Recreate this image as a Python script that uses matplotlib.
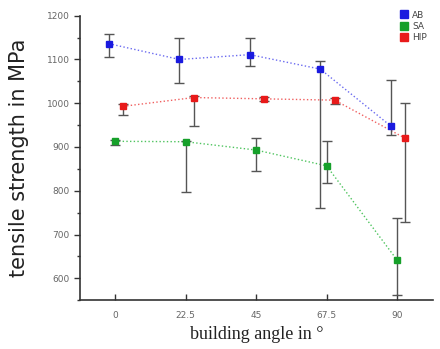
import matplotlib.pyplot as plt
from matplotlib.ticker import MultipleLocator
import numpy as np

# ── DATA ─────────────────────────────────────────────────────
angles = [0, 22.5, 45, 67.5, 90]
tick_labels = ['0', '22.5', '45', '67.5', '90']

ab_val = [1136, 1100, 1111, 1078, 948]
ab_lo  = [1106, 1047, 1085, 760, 927]
ab_hi  = [1158, 1149, 1150, 1096, 1054]

sa_val = [913, 912, 893, 857, 642]
sa_lo  = [904, 797, 846, 817, 561]
sa_hi  = [916, 914, 921, 914, 737]

hip_val = [993, 1013, 1010, 1007, 920]
hip_lo  = [973, 949, 1004, 998, 729]
hip_hi  = [998, 1017, 1014, 1011, 1001]

# ── STYLE ────────────────────────────────────────────────────
series = [
    ('AB', ab_val, ab_lo, ab_hi, -2.0, '#1a1adf', '#6b6bf0'),
    ('SA', sa_val, sa_lo, sa_hi, 0.0, '#16a02a', '#4fc45f'),
    ('HIP', hip_val, hip_lo, hip_hi, 2.6, '#e81a1a', '#f06060'),
]

fig = plt.figure(figsize=(4.4, 3.49), dpi=100)
ax = fig.add_axes([0.182, 0.140, 0.802, 0.815])

x = np.array(angles)
for name, val, lo, hi, off, c, lc in series:
    val = np.array(val)
    yerr = [val - np.array(lo), np.array(hi) - val]
    ax.plot(x + off, val, ls=':', color=lc, lw=1.0, zorder=2)
    ax.errorbar(x + off, val, yerr=yerr, fmt='none', ecolor='#555555',
                elinewidth=1.0, capsize=3.5, capthick=1.0, zorder=3)
    ax.plot(x + off, val, 's', color=c, ms=5, ls='none', zorder=4, label=name)

ax.set_xlim(-11.25, 101.5)
ax.set_ylim(550, 1200)
ax.set_xticks(angles)
ax.set_xticklabels(tick_labels)
ax.yaxis.set_major_locator(MultipleLocator(100))
ax.yaxis.set_minor_locator(MultipleLocator(50))

for s in ['top', 'right']:
    ax.spines[s].set_visible(False)
for s in ['left', 'bottom']:
    ax.spines[s].set_color('#333333')
    ax.spines[s].set_linewidth(1.2)

ax.tick_params(axis='y', which='major', direction='out', length=4, width=1,
               labelsize=6.5, labelcolor='#666666', color='#333333')
ax.tick_params(axis='y', which='minor', direction='out', length=2.5, width=1,
               color='#333333')
ax.tick_params(axis='x', direction='in', length=4, width=1, pad=8,
               labelsize=6.5, labelcolor='#666666', color='#333333')

ax.set_ylabel('tensile strength in MPa', fontsize=15, color='#222222', labelpad=13)
ax.set_xlabel('building angle in \u00b0', fontsize=13, family='Liberation Serif',
              color='#222222', labelpad=4)

ax.legend(loc='upper right', bbox_to_anchor=(1.0, 1.04), frameon=False,
          fontsize=6.5, handlelength=0.8, handletextpad=0.5, labelspacing=0.25,
          markerscale=1.2, borderpad=0.2, labelcolor='#444444')

plt.savefig('out.png', dpi=100)
plt.close()
